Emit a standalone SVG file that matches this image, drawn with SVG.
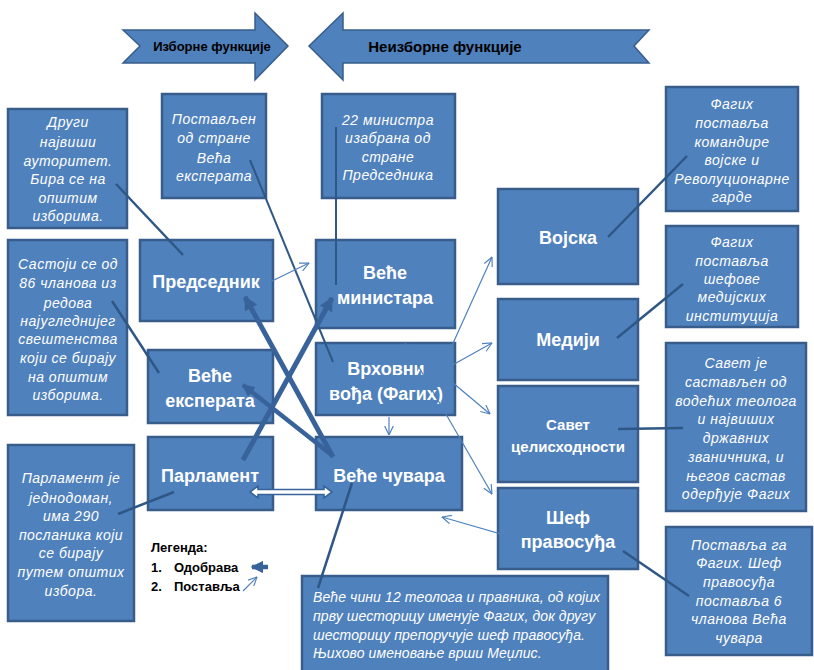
<svg xmlns="http://www.w3.org/2000/svg" width="814" height="670" viewBox="0 0 814 670">
<style>
.box{fill:#4F81BD;stroke:#385D8A;stroke-width:2.5}
.lbl{font-family:"Liberation Sans",Arial,sans-serif;font-weight:bold;font-size:18px;fill:#fff;text-anchor:middle}
.desc{font-family:"Liberation Sans",Arial,sans-serif;font-style:italic;font-size:14px;fill:#fff;text-anchor:middle;letter-spacing:0.5px}
.desc2{font-family:"Liberation Sans",Arial,sans-serif;font-style:italic;font-size:14px;fill:#fff;letter-spacing:0.1px}
.hdr{font-family:"Liberation Sans",Arial,sans-serif;font-weight:bold;fill:#000;text-anchor:middle}
.leg{font-family:"Liberation Sans",Arial,sans-serif;font-weight:bold;font-size:13px;fill:#000}
.big{fill:#4F81BD;stroke:#385D8A;stroke-width:1.5}
.note{stroke:#2F5785;stroke-width:2.5;fill:none}
.thick{stroke:#38639A;stroke-width:5;fill:none;marker-end:url(#thickHead)}
.thin{stroke:#4F81BD;stroke-width:1.2;fill:none;marker-end:url(#openHead)}
</style>
<defs>
<marker id="thickHead" viewBox="0 0 10 10" refX="9" refY="5" markerWidth="2.8" markerHeight="2.8" orient="auto" markerUnits="strokeWidth">
<path d="M0,0 L10,5 L0,10 z" fill="#38639A"/>
</marker>
<marker id="openHead" viewBox="0 0 10 10" refX="9.5" refY="5" markerWidth="8" markerHeight="8" orient="auto" markerUnits="strokeWidth">
<path d="M0,0.5 L9.5,5 L0,9.5" fill="none" stroke="#4F81BD" stroke-width="1.2"/>
</marker>
</defs>
<rect width="814" height="670" fill="#fff"/>

<g id="izborne">
<polygon class="big" points="123,30 255,30 255,13 288,46 255,80 255,63 123,63 140,46"/>
<text class="hdr" x="212" y="51" font-size="13">Изборне функције</text>
</g>
<g id="neizborne">
<polygon class="big" points="649,30 343,30 343,13 309,46 343,80 343,63 649,63 634,46"/>
<text class="hdr" x="445" y="52" font-size="15">Неизборне функције</text>
</g>

<g id="note-predsednik">
<rect class="box" x="8" y="109" width="119" height="119"/>
<text class="desc" x="68" y="127">Други</text>
<text class="desc" x="68" y="147">највиши</text>
<text class="desc" x="68" y="166">ауторитет.</text>
<text class="desc" x="68" y="184">Бира се на</text>
<text class="desc" x="68" y="203">општим</text>
<text class="desc" x="68" y="221">изборима.</text>
</g>
<g id="note-eksperti-vodja">
<rect class="box" x="162" y="94" width="104" height="104"/>
<text class="desc" x="214" y="124">Постављен</text>
<text class="desc" x="214" y="143">од стране</text>
<text class="desc" x="214" y="163">Већа</text>
<text class="desc" x="214" y="181">експерата</text>
</g>
<g id="note-ministri">
<rect class="box" x="322" y="94" width="133" height="104"/>
<text class="desc" x="388" y="125">22 министра</text>
<text class="desc" x="388" y="143">изабрана од</text>
<text class="desc" x="388" y="162">стране</text>
<text class="desc" x="388" y="180">Председника</text>
</g>
<g id="note-vojska">
<rect class="box" x="666" y="87" width="132" height="124"/>
<text class="desc" x="732" y="109">Фагих</text>
<text class="desc" x="732" y="128">поставља</text>
<text class="desc" x="732" y="147">командире</text>
<text class="desc" x="732" y="165">војске и</text>
<text class="desc" x="732" y="184">Револуционарне</text>
<text class="desc" x="732" y="202">гарде</text>
</g>
<g id="note-mediji">
<rect class="box" x="666" y="226" width="132" height="101"/>
<text class="desc" x="732" y="247">Фагих</text>
<text class="desc" x="732" y="266">поставља</text>
<text class="desc" x="732" y="284">шефове</text>
<text class="desc" x="732" y="302">медијских</text>
<text class="desc" x="732" y="321">институција</text>
</g>
<g id="note-savet">
<rect class="box" x="666" y="343" width="140" height="168"/>
<text class="desc" x="736" y="368">Савет је</text>
<text class="desc" x="736" y="387">састављен од</text>
<text class="desc" x="736" y="406">водећих теолога</text>
<text class="desc" x="736" y="424">и највиших</text>
<text class="desc" x="736" y="443">државних</text>
<text class="desc" x="736" y="462">званичника, и</text>
<text class="desc" x="736" y="481">његов састав</text>
<text class="desc" x="736" y="499">одерђује Фагих</text>
</g>
<g id="note-sef">
<rect class="box" x="666" y="527" width="146" height="128"/>
<text class="desc" x="739" y="550">Поставља га</text>
<text class="desc" x="739" y="568">Фагих. Шеф</text>
<text class="desc" x="739" y="587">правосуђа</text>
<text class="desc" x="739" y="606">поставља 6</text>
<text class="desc" x="739" y="624">чланова Већа</text>
<text class="desc" x="739" y="643">чувара</text>
</g>
<g id="note-eksperti">
<rect class="box" x="8" y="240" width="119" height="175"/>
<text class="desc" x="68" y="269">Састоји се од</text>
<text class="desc" x="68" y="288">86 чланова из</text>
<text class="desc" x="68" y="308">редова</text>
<text class="desc" x="68" y="326">најугледнијег</text>
<text class="desc" x="68" y="344">свештенства</text>
<text class="desc" x="68" y="363">који се бирају</text>
<text class="desc" x="68" y="382">на општим</text>
<text class="desc" x="68" y="400">изборима.</text>
</g>
<g id="note-parlament">
<rect class="box" x="8" y="445" width="126" height="176"/>
<text class="desc" x="71" y="483">Парламент је</text>
<text class="desc" x="71" y="503">једнодоман,</text>
<text class="desc" x="71" y="521">има 290</text>
<text class="desc" x="71" y="540">посланика који</text>
<text class="desc" x="71" y="558">се бирају</text>
<text class="desc" x="71" y="577">путем општих</text>
<text class="desc" x="71" y="596">избора.</text>
</g>
<g id="note-cuvari">
<rect class="box" x="302" y="576" width="306" height="98"/>
<text class="desc2" x="313" y="602">Веће чини 12 теолога и правника, од којих</text>
<text class="desc2" x="313" y="621">прву шесторицу именује Фагих, док другу</text>
<text class="desc2" x="313" y="640">шесторицу препоручује шеф правосуђа.</text>
<text class="desc2" x="313" y="658">Њихово именовање врши Меџлис.</text>
</g>

<g id="predsednik">
<rect class="box" x="140" y="240" width="133" height="81"/>
<text class="lbl" x="206" y="288">Председник</text>
</g>
<g id="vece-eksperata">
<rect class="box" x="148" y="350" width="125" height="73"/>
<text class="lbl" x="210" y="382">Веће</text>
<text class="lbl" x="210" y="407">експерата</text>
</g>
<g id="parlament">
<rect class="box" x="148" y="437" width="125" height="73"/>
<text class="lbl" x="210" y="482">Парламент</text>
</g>
<g id="vece-ministara">
<rect class="box" x="316" y="240" width="139" height="88"/>
<text class="lbl" x="385" y="279">Веће</text>
<text class="lbl" x="385" y="304">министара</text>
</g>
<g id="vrhovni-vodja">
<rect class="box" x="316" y="343" width="139" height="72"/>
<text class="lbl" x="386" y="375">Врховни</text>
<text class="lbl" x="386" y="400">вођа (Фагих)</text>
</g>
<g id="vece-cuvara">
<rect class="box" x="316" y="437" width="146" height="73"/>
<text class="lbl" x="389" y="482">Веће чувара</text>
</g>
<g id="vojska">
<rect class="box" x="498" y="189" width="140" height="95"/>
<text class="lbl" x="568" y="244">Војска</text>
</g>
<g id="mediji">
<rect class="box" x="498" y="299" width="140" height="81"/>
<text class="lbl" x="568" y="346">Медији</text>
</g>
<g id="savet">
<rect class="box" x="498" y="386" width="140" height="96"/>
<text class="lbl" x="568" y="430" style="font-size:15px">Савет</text>
<text class="lbl" x="568" y="452" style="font-size:15px">целисходности</text>
</g>
<g id="sef-pravosudja">
<rect class="box" x="498" y="488" width="140" height="81"/>
<text class="lbl" x="568" y="524">Шеф</text>
<text class="lbl" x="568" y="548">правосуђа</text>
</g>

<g id="connectors">
<line class="note" x1="116" y1="184" x2="183" y2="255"/>
<line class="note" x1="250" y1="160" x2="333" y2="362" style="stroke-width:2"/>
<line class="note" x1="336" y1="127" x2="336" y2="285" style="stroke-width:2"/>
<line class="note" x1="687" y1="156" x2="608" y2="237"/>
<line class="note" x1="683" y1="284" x2="617" y2="338"/>
<line class="note" x1="618" y1="429" x2="683" y2="428"/>
<line class="note" x1="623" y1="551" x2="689" y2="596"/>
<line class="note" x1="112" y1="301" x2="159" y2="373"/>
<line class="note" x1="118" y1="514" x2="174" y2="492"/>
<line class="note" x1="352" y1="483" x2="318" y2="588"/>

<path class="thick" d="M333,457 L245,297"/>
<path class="thick" d="M243,460 L332,298"/>
<path class="thick" d="M333,456 L243,385" style="stroke-width:4.5"/>

<polygon points="250,492 258,486 258,489.5 324,489.5 324,486 332,492 324,498 324,494.5 258,494.5 258,498" fill="#fff" stroke="#38639A" stroke-width="1.6"/>

<path class="thin" d="M272,281 L309,263"/>
<path class="thin" d="M440,372 L492,257"/>
<path class="thin" d="M440,372 L492,343"/>
<path class="thin" d="M440,372 L490,414"/>
<path class="thin" d="M405,343 L492,494"/>
<path class="thin" d="M389,417 L389,435"/>
<path class="thin" d="M515,538 L442,517"/>
</g>

<g id="legend">
<text class="leg" x="151" y="552">Легенда:</text>
<text class="leg" x="151" y="572">1.</text>
<text class="leg" x="174" y="572">Одобрава</text>
<text class="leg" x="151" y="591">2.</text>
<text class="leg" x="174" y="591">Поставља</text>
<path d="M268,567 L252,567" stroke="#38639A" stroke-width="4.5" fill="none" marker-end="url(#thickHead)"/>
<path class="thin" d="M243,591 L257,577"/>
</g>
</svg>
